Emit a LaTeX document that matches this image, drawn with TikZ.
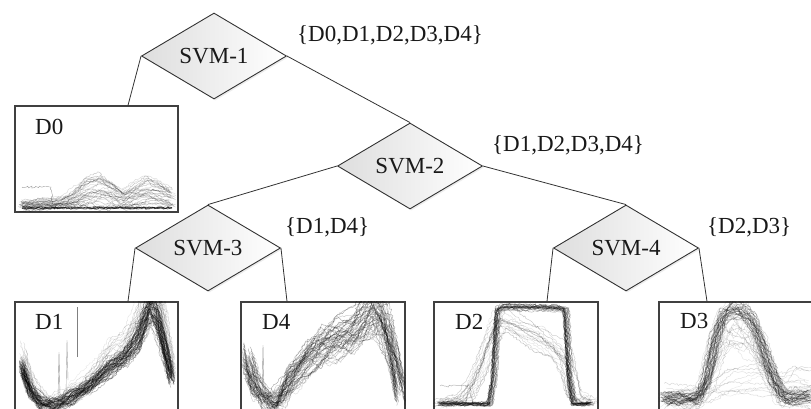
\documentclass[tikz,border=0pt]{standalone}
\usepackage{fontspec}
\setmainfont{Liberation Serif}
\usetikzlibrary{shapes.geometric,decorations.pathmorphing,shadows}
\def\kA{30/390,42/403,55/404,70/398,90/385,110/368,125/357,138/340,146/318,151/308,157/318,164/345,172/378}
\def\kB{255/385,268/401,280/398,292/378,310/355,325/345,340/338,355/330,368/315,376/308,385/322,394/360,400/390}
\def\kC{490/404,494/380,498/310,505/307,560/308,566/310,570/380,574/404,592/404}
\def\kCs{465/400,480/370,492/330,500/310,515/315,540/330,560/345,568/360,575/395,585/400,592/400}
\def\kD{680/399,698/398,706/380,714/340,722/315,732/307,742/309,752/320,762/345,772/375,782/396,792/398,811/396}
\def\kDt{700/395,710/390,730/380,760/375,785/380,795/370,811/375}
\def\kE{40/203,60/202,75/196,88/188,100/184,112/190,125/196,135/192,148/188,160/190,172/196}
\begin{document}
\begin{tikzpicture}[x=1pt,y=-1pt,
  lab/.style={font=\fontsize{23}{27}\selectfont, inner sep=0pt, text=black!90},
  svm/.style={diamond, aspect=1.69, draw=black!80, line width=0.9pt, left color=black!13, right color=white,
    minimum width=145pt, minimum height=86pt, inner sep=0pt, text=black!90,
    font=\fontsize{23}{27}\selectfont,
    drop shadow={shadow xshift=1.5pt, shadow yshift=-1.5pt, opacity=0.15, fill=black!50}},
  box/.style={draw=black!75, line width=1.3pt, fill=white, inner sep=0pt},
  edge/.style={draw=black!80, line width=0.8pt},
  crv/.style={draw=black, line width=0.45pt, decorate,
    decoration={random steps, segment length=1.8pt, amplitude=1.1pt}},
]
\useasboundingbox (0,0) rectangle (811,408);
\clip (0,0) rectangle (811,408);
\pgfmathsetseed{7}

% boxes
\node[box, minimum width=163pt, minimum height=106pt] (d0) at (96.5,159) {};
\node[box, minimum width=163pt, minimum height=110pt] (d1) at (96.5,357) {};
\node[box, minimum width=164pt, minimum height=110pt] (d4) at (323,357) {};
\node[box, minimum width=164pt, minimum height=110pt] (d2) at (516,357) {};
\node[box, minimum width=164pt, minimum height=110pt] (d3) at (741,357) {};

% D0 curves
\begin{scope}
\clip (d0.north west) rectangle (d0.south east);
\def\bl{209}\def\jt{4}
\foreach \i in {1,...,32}{
  \pgfmathsetmacro\ka{0.1+1.4*rnd}
  \pgfmathsetmacro\sh{4*rand}
  \pgfmathsetmacro\op{0.1+0.22*rnd}
  \draw[crv, opacity=\op] ({22+\sh},{\bl-\ka*(\bl-204)+\jt*rand})
    \foreach \xx/\yy in \kE { -- ({\xx+\sh},{\bl-\ka*(\bl-\yy)+\jt*rand}) };
}
\foreach \i in {1,...,6}{
  \draw[crv, opacity=0.5] (22,{208+rand}) -- (172,{208+rand});
}
\draw[crv, opacity=0.35] (22,187) -- (51,187) -- (53,204) -- (80,203);
\end{scope}

% D1 curves
\begin{scope}
\clip (d1.north west) rectangle (d1.south east);
\def\bl{405}\def\jt{8}
\foreach \i in {1,...,55}{
  \pgfmathsetmacro\ka{1+0.14*rand}
  \pgfmathsetmacro\sh{3*rand}
  \pgfmathsetmacro\op{0.15+0.25*rnd}
  \draw[crv, opacity=\op] ({22+\sh},{\bl-\ka*(\bl-368)+\jt*rand})
    \foreach \xx/\yy in \kA { -- ({\xx+\sh},{\bl-\ka*(\bl-\yy)+\jt*rand}) };
}
\def\jt{12}
\foreach \i in {1,...,16}{
  \pgfmathsetmacro\ka{1.2+0.4*rnd}
  \pgfmathsetmacro\sh{4*rand}
  \pgfmathsetmacro\op{0.07+0.1*rnd}
  \draw[crv, opacity=\op] ({22+\sh},{\bl-\ka*(\bl-368)+\jt*rand})
    \foreach \xx/\yy in \kA { -- ({\xx+\sh},{\bl-\ka*(\bl-\yy)+\jt*rand}) };
}
\draw[black!50, line width=0.5pt] (77,357) -- (77,307);
\draw[black!40, line width=0.4pt] (58,398) -- (59,352) -- (60,395);
\draw[black!35, line width=0.4pt] (66,395) -- (67,340) -- (68,380);
\end{scope}

% D4 curves
\begin{scope}
\clip (d4.north west) rectangle (d4.south east);
\def\bl{405}\def\jt{14}
\foreach \i in {1,...,55}{
  \pgfmathsetmacro\ka{1+0.2*rand}
  \pgfmathsetmacro\sh{6*rand}
  \pgfmathsetmacro\op{0.1+0.25*rnd}
  \draw[crv, opacity=\op] ({247+\sh},{\bl-\ka*(\bl-360)+\jt*rand})
    \foreach \xx/\yy in \kB { -- ({\xx+\sh},{\bl-\ka*(\bl-\yy)+\jt*rand}) };
}
\draw[black!40, line width=0.4pt] (262,398) -- (263,345) -- (264,390);
\end{scope}

% D2 curves
\begin{scope}
\clip (d2.north west) rectangle (d2.south east);
\def\bl{405}\def\jt{2}
\foreach \i in {1,...,22}{
  \pgfmathsetmacro\ka{1+0.02*rand}
  \pgfmathsetmacro\sh{3*rand}
  \pgfmathsetmacro\op{0.18+0.25*rnd}
  \draw[crv, opacity=\op] ({440+\sh},{\bl-\ka*(\bl-404)+\jt*rand})
    \foreach \xx/\yy in \kC { -- ({\xx+\sh},{\bl-\ka*(\bl-\yy)+\jt*rand}) };
}
\def\jt{6}
\foreach \i in {1,...,16}{
  \pgfmathsetmacro\ka{0.9+0.12*rand}
  \pgfmathsetmacro\sh{8*rand}
  \pgfmathsetmacro\op{0.1+0.15*rnd}
  \draw[crv, opacity=\op] ({440+\sh},{\bl-\ka*(\bl-403)+\jt*rand})
    \foreach \xx/\yy in \kCs { -- ({\xx+\sh},{\bl-\ka*(\bl-\yy)+\jt*rand}) };
}
\draw[crv, opacity=0.3] (440,386) -- (470,386) -- (472,403) -- (490,403);
\end{scope}

% D3 curves
\begin{scope}
\clip (d3.north west) rectangle (d3.south east);
\def\bl{402}\def\jt{8}
\foreach \i in {1,...,30}{
  \pgfmathsetmacro\ka{0.98+0.06*rand}
  \pgfmathsetmacro\sh{5*rand}
  \pgfmathsetmacro\op{0.15+0.25*rnd}
  \draw[crv, opacity=\op] ({663+\sh},{\bl-\ka*(\bl-398)+\jt*rand})
    \foreach \xx/\yy in \kD { -- ({\xx+\sh},{\bl-\ka*(\bl-\yy)+\jt*rand}) };
}
\def\jt{14}
\foreach \i in {1,...,16}{
  \pgfmathsetmacro\ka{0.55+0.4*rnd}
  \pgfmathsetmacro\sh{8*rand}
  \pgfmathsetmacro\op{0.08+0.12*rnd}
  \draw[crv, opacity=\op] ({663+\sh},{\bl-\ka*(\bl-398)+\jt*rand})
    \foreach \xx/\yy in \kD { -- ({\xx+\sh},{\bl-\ka*(\bl-\yy)+\jt*rand}) };
}
\def\jt{8}
\foreach \i in {1,...,10}{
  \pgfmathsetmacro\ka{0.3+0.9*rnd}
  \pgfmathsetmacro\sh{4*rand}
  \pgfmathsetmacro\op{0.08+0.1*rnd}
  \draw[crv, opacity=\op] ({663+\sh},{\bl-\ka*(\bl-392)+\jt*rand})
    \foreach \xx/\yy in \kDt { -- ({\xx+\sh},{\bl-\ka*(\bl-\yy)+\jt*rand}) };
}
\end{scope}

% box labels
\node[lab, anchor=west] (t0) at (35,127) {D0};
\node[lab, anchor=west] (t1) at (35,322) {D1};
\node[lab, anchor=west] (t4) at (262,322) {D4};
\node[lab, anchor=west] (t2) at (455,322) {D2};
\node[lab, anchor=west] (t3) at (680,321) {D3};

% diamonds
\node[svm] (s1) at (214,56) {SVM-1};
\node[svm] (s2) at (410,166) {SVM-2};
\node[svm] (s3) at (208,248) {SVM-3};
\node[svm] (s4) at (626,248) {SVM-4};

% connectors
\draw[edge] (s1.west) -- ([xshift=31.5pt]d0.north);
\draw[edge] (s1.east) -- (s2.north);
\draw[edge] (s2.west) -- (s3.north);
\draw[edge] (s2.east) -- (s4.north);
\draw[edge] (s3.west) -- ([xshift=31.5pt]d1.north);
\draw[edge] (s3.east) -- ([xshift=-36pt]d4.north);
\draw[edge] (s4.west) -- ([xshift=31pt]d2.north);
\draw[edge] (s4.east) -- ([xshift=-34pt]d3.north);

% set labels
\node[lab, anchor=west] (l1) at (297,35) {\{D0,D1,D2,D3,D4\}};
\node[lab, anchor=west] (l2) at (492,145) {\{D1,D2,D3,D4\}};
\node[lab, anchor=west] (l3) at (285,227) {\{D1,D4\}};
\node[lab, anchor=west] (l4) at (707,227) {\{D2,D3\}};
\end{tikzpicture}
\end{document}
